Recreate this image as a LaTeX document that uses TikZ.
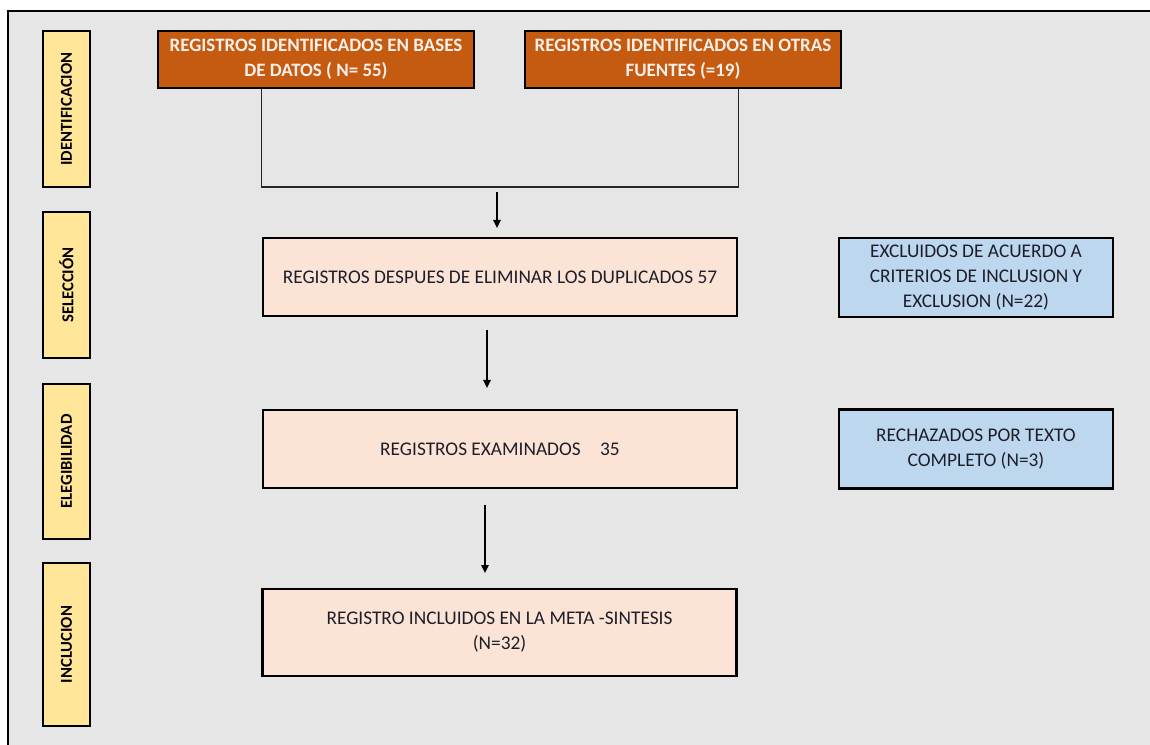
\documentclass[tikz,border=0pt]{standalone}
\usepackage{fontspec}
\setmainfont{Carlito}
\usetikzlibrary{arrows.meta}
\definecolor{bgcol}{HTML}{E6E6E6}
\definecolor{phasecol}{HTML}{FFE699}
\definecolor{orangecol}{HTML}{C55A11}
\definecolor{pinkcol}{HTML}{FBE4D5}
\definecolor{bluecol}{HTML}{BDD7EE}
\definecolor{txtcol}{HTML}{1E1E2A}
\definecolor{otxt}{HTML}{FDF0EA}
\tikzset{
  phasebox/.style={draw=black, line width=1.8pt, fill=phasecol, rotate=90, inner sep=0pt,
    minimum height=35.25pt, font=\fontsize{12.5}{14}\selectfont\bfseries, text=black},
  srcbox/.style={draw=black, line width=1.8pt, fill=orangecol, inner sep=0pt,
    minimum width=237pt, minimum height=42.75pt, align=center,
    font=\fontsize{14.2}{18.75}\selectfont\bfseries, text=otxt},
  mainbox/.style={draw=black, line width=2pt, fill=pinkcol, inner sep=0pt,
    minimum width=355.5pt, minimum height=58.5pt, align=center,
    font=\fontsize{14.5}{18.75}\selectfont, text=txtcol},
  sidebox/.style={draw=black, line width=2pt, fill=bluecol, inner sep=0pt,
    minimum width=205.5pt, minimum height=59.25pt, align=center,
    font=\fontsize{14.5}{18.75}\selectfont, text=txtcol},
  thinline/.style={draw=black!85, line width=0.8pt},
  arr/.style={draw=black, line width=1.5pt, -{Triangle[length=6pt,width=5.5pt]}}
}
\begin{document}
\begin{tikzpicture}[x=0.75pt, y=-0.75pt]
  \useasboundingbox[fill=white] (0,0) rectangle (1150,745);
  \fill[bgcol] (8,11) rectangle (1150,745);
  \draw[line width=1.5pt] (8,745) -- (8,11) -- (1150,11);

  % phase labels
  \node[phasebox, minimum width=117pt] (p1) at (66.5,109) {IDENTIFICACION};
  \node[phasebox, minimum width=109.5pt] (p2) at (66.5,285) {SELECCIÓN};
  \node[phasebox, minimum width=116.25pt] (p3) at (66.5,461.5) {ELEGIBILIDAD};
  \node[phasebox, minimum width=122.25pt] (p4) at (66.5,644.5) {INCLUCION};

  % source boxes
  \node[srcbox] (s1) at (316,59.5) {REGISTROS IDENTIFICADOS EN BASES\\DE DATOS ( N= 55)};
  \node[srcbox] (s2) at (683,59.5) {REGISTROS IDENTIFICADOS EN OTRAS\\FUENTES (=19)};

  % main boxes
  \node[mainbox] (m1) at (500,277) {REGISTROS DESPUES DE ELIMINAR LOS DUPLICADOS 57};
  \node[mainbox] (m2) at (500,449) {REGISTROS EXAMINADOS\quad 35};
  \node[mainbox, minimum height=65.25pt] (m3) at (499.5,632.5) {REGISTRO INCLUIDOS EN LA META -SINTESIS\\(N=32)};

  % side boxes
  \node[sidebox] (b1) at (976,277.5) {EXCLUIDOS DE ACUERDO A\\CRITERIOS DE INCLUSION Y\\EXCLUSION (N=22)};
  \node[sidebox] (b2) at (976,449) {RECHAZADOS POR TEXTO\\COMPLETO (N=3)};

  % joining connector
  \coordinate (j) at (500,187);
  \draw[thinline] (s1.south -| m1.west) |- (j) -| (s2.south -| m1.east);

  % arrows
  \coordinate (a1s) at (497,192);
  \coordinate (a1e) at (497,228);
  \coordinate (a2s) at (487,330);
  \coordinate (a2e) at (487,388);
  \coordinate (a3s) at (485,505);
  \coordinate (a3e) at (485,573);
  \draw[arr] (a1s) -- (a1e);
  \draw[arr] (a2s) -- (a2e);
  \draw[arr] (a3s) -- (a3e);
\end{tikzpicture}
\end{document}
